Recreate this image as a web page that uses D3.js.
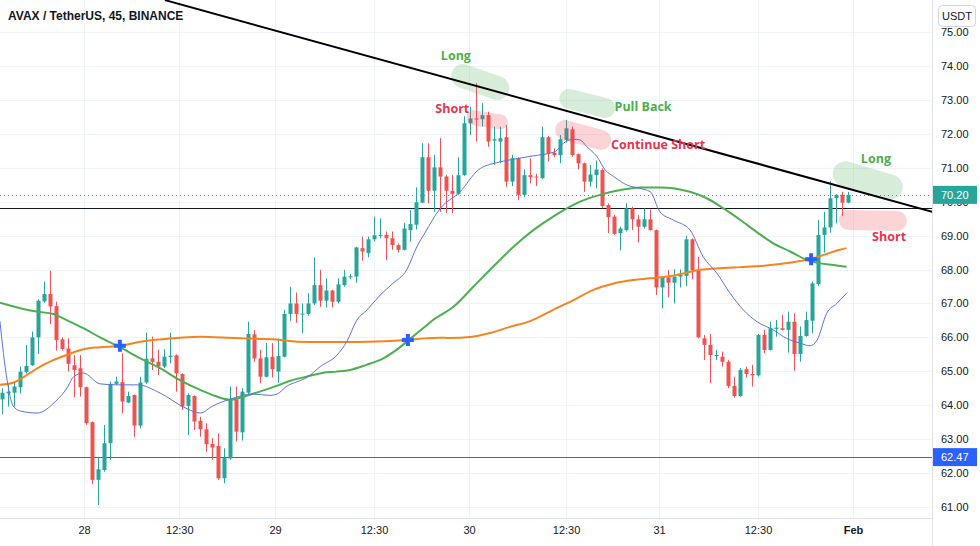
<!DOCTYPE html>
<html><head><meta charset="utf-8">
<script src="https://cdn.jsdelivr.net/npm/d3@7"></script>
<style>body{margin:0;background:#fff;}svg{display:block;}</style>
</head><body>
<svg id="c" width="980" height="546"></svg>
<script>
// ---- DATA ----
const title = "AVAX / TetherUS, 45, BINANCE";
const currency = "USDT";
const open  = [64.17,64.35,64.37,64.53,64.98,65.18,66.00,67.06,67.28,66.92,65.94,65.67,65.18,65.09,64.53,63.50,61.80,62.09,62.88,64.63,64.68,64.08,64.30,63.40,64.67,65.38,65.28,65.14,65.42,65.47,64.92,63.98,64.27,63.54,63.29,62.86,62.80,61.85,62.43,64.17,63.20,64.37,66.09,65.38,64.84,65.43,64.99,65.43,66.69,67.00,66.69,66.69,67.00,67.54,67.08,67.38,67.05,67.54,67.79,67.79,68.63,68.48,68.89,69.01,69.02,68.92,68.72,68.58,69.16,69.32,69.97,71.31,70.32,71.01,70.74,70.32,70.23,70.78,72.31,72.45,72.43,72.55,71.80,71.77,71.90,70.59,71.28,70.20,70.78,70.74,70.69,71.90,71.44,71.37,71.82,72.13,71.40,71.13,70.59,70.78,70.93,69.90,69.56,69.07,69.16,69.80,69.48,69.26,69.48,69.16,67.47,67.77,67.61,67.79,67.81,68.89,67.97,65.97,65.78,65.45,65.43,65.28,64.57,64.27,65.06,64.92,64.88,66.07,65.63,66.25,66.27,66.22,66.46,65.51,66.04,66.49,67.57,69.02,69.24,70.10,70.20,69.97];
const high  = [64.50,64.63,64.70,65.14,65.78,66.17,67.12,67.64,67.97,67.05,66.00,65.97,65.48,65.48,64.55,63.52,62.48,63.42,64.70,64.84,65.53,64.40,64.32,64.84,66.14,66.02,65.63,65.65,66.14,65.50,64.94,64.35,64.29,63.66,63.47,63.03,63.17,62.73,64.55,64.55,64.50,66.46,66.22,65.63,65.83,65.83,65.97,66.81,67.49,67.32,67.00,67.30,68.36,67.99,67.74,67.40,67.74,67.99,67.87,68.67,68.97,68.97,69.56,69.51,69.12,69.12,68.77,69.38,69.75,70.42,71.72,71.72,71.38,71.87,70.79,70.79,71.31,72.52,72.80,73.50,72.90,72.65,72.21,72.21,72.26,71.38,71.31,70.95,71.28,70.82,72.21,71.94,71.57,71.96,72.41,72.21,71.42,71.15,71.08,71.21,70.98,69.95,69.61,69.26,69.95,69.85,69.60,69.80,69.77,69.18,67.79,67.99,68.00,68.00,68.99,68.92,68.38,66.07,66.10,65.63,65.58,65.33,64.84,65.09,65.14,65.19,66.10,66.22,66.46,66.51,66.66,66.76,66.71,66.32,66.76,67.64,69.46,69.70,70.60,70.22,70.29,70.29];
const low   = [63.74,63.96,63.96,64.35,64.94,65.16,65.51,67.02,66.39,65.61,65.61,64.99,64.23,64.25,63.42,61.68,61.06,62.04,62.39,64.60,63.76,64.06,63.07,63.32,64.63,65.04,64.89,65.09,65.23,64.40,63.86,63.12,63.27,63.07,62.63,62.39,61.80,61.70,62.39,62.93,62.96,64.33,65.28,64.65,64.82,64.82,64.66,65.41,66.49,66.43,66.12,66.64,66.95,66.90,66.88,66.88,67.00,67.49,67.71,67.61,68.26,68.36,68.82,68.92,68.28,68.58,68.50,68.56,68.82,69.18,69.95,69.95,69.70,69.70,69.66,69.66,70.20,70.76,71.96,71.77,72.21,71.62,71.08,71.13,70.44,70.46,70.05,70.13,70.54,70.46,70.66,71.18,71.31,71.13,71.74,71.32,70.95,70.29,70.44,70.39,69.80,69.07,69.02,68.56,69.12,69.16,68.80,69.21,69.15,67.25,66.86,67.18,67.00,67.47,67.51,67.71,65.97,65.33,64.65,65.33,65.14,64.50,64.23,64.25,64.82,64.55,64.84,65.53,65.61,66.02,66.20,65.55,65.02,65.28,66.02,66.12,67.51,68.50,69.09,69.36,69.58,69.95];
const close = [64.37,64.40,64.55,64.99,65.16,66.00,67.08,67.28,66.91,65.92,65.66,65.22,65.04,64.53,63.47,61.80,62.11,62.88,64.63,64.70,64.11,64.27,63.40,64.67,65.37,65.28,65.14,65.43,65.46,64.94,63.96,64.30,63.52,63.29,62.85,62.75,61.85,62.44,64.17,63.22,64.40,66.10,65.38,64.84,65.41,65.06,65.45,66.69,67.00,66.69,66.70,67.00,67.54,67.08,67.38,67.05,67.56,67.79,67.80,68.65,68.53,68.89,69.01,69.02,68.92,68.72,68.58,69.21,69.34,69.98,71.31,70.32,71.01,70.74,70.32,70.23,70.78,72.31,72.45,72.43,72.55,71.77,71.84,71.87,70.59,71.28,70.20,70.78,70.72,70.71,71.90,71.42,71.37,71.84,72.16,71.37,71.13,70.59,70.80,70.95,69.87,69.54,69.05,69.21,69.80,69.48,69.26,69.48,69.16,67.47,67.77,67.61,67.79,67.84,68.89,67.97,66.00,65.78,65.48,65.48,65.28,64.57,64.27,65.04,64.92,64.88,66.07,65.63,66.27,66.29,66.22,66.46,65.51,66.04,66.51,67.59,69.02,69.24,70.10,70.20,69.97,70.20];

// moving averages: [candle index, price]
const maFast = [[-0.3,66.48],[0.9,64.74],[1.9,63.98],[3.1,63.83],[5.9,63.77],[8.9,64.10],[10.9,64.51],[12,64.84],[13.6,64.95],[16.4,64.63],[19.2,64.60],[22.7,64.60],[26.4,64.36],[30.6,63.92],[33.1,63.77],[35.2,63.98],[38.1,64.18],[41.9,64.33],[44.7,64.29],[45.9,64.33],[47.6,64.57],[49.2,64.69],[50.9,64.82],[53.1,65.14],[55.9,65.48],[57.5,65.87],[59.2,66.51],[60.9,66.81],[63.1,67.25],[65.2,67.59],[67.5,67.99],[69.2,68.67],[70.5,69.07],[73.1,69.80],[76.4,70.29],[79.4,70.93],[82.5,71.15],[84.7,71.23],[88.6,71.35],[92.2,71.47],[93.6,71.72],[95.3,71.84],[96.4,71.82],[97.5,71.62],[99.2,71.33],[100.6,70.93],[102.0,70.74],[104.2,70.49],[106.4,70.39],[108.1,70.29],[109.7,69.70],[111.9,69.46],[114.7,69.17],[116.9,68.38],[119.2,67.89],[121.4,67.30],[123.6,66.81],[125.9,66.46],[128.6,66.22],[130.8,65.97],[133.1,65.83],[134.7,65.75],[135.9,65.92],[137.5,66.71],[139.2,67.00],[140.9,67.32]];
const maMid = [[-0.3,67.02],[3.1,66.86],[5.8,66.76],[8.6,66.69],[10.8,66.51],[13.6,66.27],[16.4,66.00],[19.7,65.71],[23.1,65.38],[26.4,65.09],[29.7,64.74],[33.1,64.45],[35.6,64.27],[38.1,64.16],[40.3,64.25],[42.5,64.37],[45.8,64.57],[48.1,64.72],[50.8,64.84],[53.6,64.96],[55.8,64.99],[58.1,65.04],[60.8,65.19],[63.6,65.38],[65.8,65.63],[67.5,65.87],[69.2,66.12],[70.6,66.32],[71.9,66.51],[75.3,66.90],[78.6,67.49],[81.9,68.08],[85.3,68.67],[88.6,69.16],[91.9,69.56],[94.2,69.80],[96.4,70.00],[99.7,70.20],[103.1,70.34],[106.4,70.42],[109.7,70.42],[114.7,70.29],[117.5,70.10],[120.3,69.80],[123.1,69.46],[125.8,69.11],[128.6,68.77],[131.4,68.53],[134.2,68.28],[136.4,68.18],[138.6,68.13],[140.8,68.08]];
const maSlow = [[-0.3,64.60],[1.9,64.66],[4.2,64.89],[6.4,65.14],[8.6,65.33],[10.8,65.48],[13.6,65.65],[16.4,65.71],[19.7,65.75],[23.1,65.87],[26.4,65.94],[29.7,65.99],[33.1,66.02],[35.6,66.00],[40.3,65.97],[45.8,65.94],[49.2,65.87],[53.1,65.86],[56.9,65.86],[60.8,65.87],[64.7,65.89],[67.5,65.92],[70.6,65.97],[72.9,65.99],[74.7,65.98],[78.1,66.01],[81.4,66.13],[84.7,66.31],[88.1,66.48],[91.9,66.81],[95.3,67.10],[98.6,67.40],[102.0,67.59],[105.3,67.69],[108.1,67.74],[112.5,67.84],[116.4,67.99],[119.7,68.04],[123.1,68.07],[126.4,68.10],[129.7,68.16],[133.1,68.25],[135.3,68.33],[137.5,68.46],[139.7,68.58],[140.8,68.63]];
const crosses = [[19.7,65.75],[67.7,65.92],[134.9,68.30]];
const trendLine = [[27.2,75.94],[155.1,69.70]];
const supportLevel = 69.81;
const blueLevel = 62.47;
const lastPrice = 70.20;
const priceTicks = [61,62,63,64,65,66,67,68,69,70,71,72,73,74,75];
const timeTickPos = [13.72,29.6,45.56,62.05,77.89,94.06,109.56,126.05,141.89];
const timeTickLabels = ["28","12:30","29","12:30","30","12:30","31","12:30","Feb"];
const noteTexts = ["Long","Short","Pull Back","Continue Short","Long","Short"];
const noteKinds = ["long","short","long","short","long","short"];
const notePos = [[75.7,74.32],[75.1,72.76],[106.9,72.79],[109.4,71.67],[145.7,71.26],[147.9,68.96]];
const highlightKinds = ["long","short","long","short","long","short"];
const highlightSeg = [[[76.9,73.70],[82.6,73.35]],[[78.7,72.47],[83.1,72.35]],[[94.6,73.03],[100.6,72.76]],[[93.9,72.11],[99.9,71.82]],[[140.6,70.82],[148.1,70.43]],[[141.2,69.46],[149.2,69.43]]];

// ---- STYLE ----
const W = 980, H = 546, plotW = 932, plotH = 518;
const UP = "#26a69a", DOWN = "#ef5350";
const hlWidth = [24,15,20,20,25,20];
const kindText = {long:"#4caf50", short:"#e8334f"};
const kindFill = {long:"rgba(76,175,80,0.22)", short:"rgba(242,54,69,0.22)"};
const FONT = "'Liberation Sans', Arial, sans-serif";

const svg = d3.select("#c");
const x = d3.scaleLinear().domain([-0.28, 155.05]).range([0, plotW]);
const y = d3.scaleLinear().domain([61, 75]).range([507, 32]);

svg.append("rect").attr("width",W).attr("height",H).attr("fill","#fff");

// grid
const grid = svg.append("g");
grid.selectAll("line.h").data(priceTicks).join("line")
  .attr("x1",0).attr("x2",plotW)
  .attr("y1",d=>Math.round(y(d))+0.5).attr("y2",d=>Math.round(y(d))+0.5)
  .attr("stroke","#f0f3fa");
grid.selectAll("line.v").data(timeTickPos).join("line")
  .attr("y1",0).attr("y2",plotH)
  .attr("x1",d=>Math.round(x(d))+0.5).attr("x2",d=>Math.round(x(d))+0.5)
  .attr("stroke","#f0f3fa");

const plot = svg.append("g");
svg.append("clipPath").attr("id","clip").append("rect").attr("width",plotW).attr("height",plotH);
plot.attr("clip-path","url(#clip)");

// horizontal levels
plot.append("line").attr("x1",0).attr("x2",plotW)
  .attr("y1",Math.round(y(blueLevel))+0.5).attr("y2",Math.round(y(blueLevel))+0.5)
  .attr("stroke","#2962ff").attr("stroke-width",1);
plot.append("line").attr("x1",0).attr("x2",plotW)
  .attr("y1",Math.round(y(supportLevel))+0.5).attr("y2",Math.round(y(supportLevel))+0.5)
  .attr("stroke","#131722").attr("stroke-width",1.2);
plot.append("line").attr("x1",0).attr("x2",plotW)
  .attr("y1",Math.round(y(lastPrice))+0.5).attr("y2",Math.round(y(lastPrice))+0.5)
  .attr("stroke",UP).attr("stroke-width",1).attr("stroke-dasharray","1,3");

// candles
const idx = d3.range(open.length);
const cg = plot.append("g");
cg.selectAll("line").data(idx).join("line")
  .attr("x1",i=>Math.round(x(i))+0.5).attr("x2",i=>Math.round(x(i))+0.5)
  .attr("y1",i=>y(high[i])).attr("y2",i=>y(low[i]))
  .attr("stroke",i=>close[i]>=open[i]?UP:DOWN).attr("stroke-width",1);
cg.selectAll("rect").data(idx).join("rect")
  .attr("x",i=>Math.round(x(i))-1.5).attr("width",4)
  .attr("y",i=>y(Math.max(open[i],close[i])))
  .attr("height",i=>Math.max(1,Math.abs(y(open[i])-y(close[i]))))
  .attr("fill",i=>close[i]>=open[i]?UP:DOWN);

// moving averages
const line = d3.line().x(d=>x(d[0])).y(d=>y(d[1])).curve(d3.curveMonotoneX);
plot.append("path").attr("d",line(maSlow)).attr("fill","none").attr("stroke","#f5841f").attr("stroke-width",2);
plot.append("path").attr("d",line(maMid)).attr("fill","none").attr("stroke","#4caf50").attr("stroke-width",2);
plot.append("path").attr("d",line(maFast)).attr("fill","none").attr("stroke","#5a73e6").attr("stroke-width",1);

// crosses
plot.selectAll("path.cross").data(crosses).join("path")
  .attr("transform",d=>`translate(${x(d[0])},${y(d[1])})`)
  .attr("d","M-6,-2H-2V-6H2V-2H6V2H2V6H-2V2H-6Z")
  .attr("fill","#2962ff");

// highlights
plot.selectAll("line.hl").data(highlightSeg).join("line")
  .attr("x1",d=>x(d[0][0])).attr("y1",d=>y(d[0][1]))
  .attr("x2",d=>x(d[1][0])).attr("y2",d=>y(d[1][1]))
  .attr("stroke",(d,k)=>kindFill[highlightKinds[k]])
  .attr("stroke-width",(d,k)=>hlWidth[k]).attr("stroke-linecap","round");

// trend line
plot.append("line")
  .attr("x1",x(trendLine[0][0])).attr("y1",y(trendLine[0][1]))
  .attr("x2",x(trendLine[1][0])).attr("y2",y(trendLine[1][1]))
  .attr("stroke","#000").attr("stroke-width",2);

// notes
plot.selectAll("text.note").data(noteTexts).join("text")
  .attr("x",(d,k)=>x(notePos[k][0])).attr("y",(d,k)=>y(notePos[k][1]))
  .attr("text-anchor","middle").attr("dominant-baseline","central")
  .attr("font-family","'Open Sans', sans-serif").attr("font-weight",700).attr("font-size",12.5)
  .attr("fill",(d,k)=>kindText[noteKinds[k]]).text(d=>d);

// axes borders
svg.append("line").attr("x1",plotW+0.5).attr("x2",plotW+0.5).attr("y1",0).attr("y2",H).attr("stroke","#e0e3eb");
svg.append("line").attr("x1",0).attr("x2",plotW).attr("y1",plotH+0.5).attr("y2",plotH+0.5).attr("stroke","#e0e3eb");

// y axis labels
const ya = d3.axisRight(y).tickValues(priceTicks).tickFormat(d3.format(".2f")).tickSize(0).tickPadding(0);
const yg = svg.append("g").attr("transform",`translate(${plotW+9},0)`).call(ya);
yg.select(".domain").remove();
yg.selectAll("text").attr("font-family",FONT).attr("font-size",11).attr("fill","#131722");

// x axis labels
const xa = d3.axisBottom(x).tickValues(timeTickPos).tickFormat((d,k)=>timeTickLabels[k]).tickSize(0).tickPadding(0);
const xg = svg.append("g").attr("transform",`translate(0,${plotH+8})`).call(xa);
xg.select(".domain").remove();
xg.selectAll("text").attr("font-family",FONT).attr("font-size",11).attr("fill","#131722")
  .attr("font-weight",(d,k)=>timeTickLabels[k]==="Feb"?700:400);

// price badges
function badge(p, color){
  const yy = y(p);
  svg.append("rect").attr("x",plotW+1).attr("y",yy-9).attr("width",44).attr("height",18).attr("fill",color);
  svg.append("text").attr("x",plotW+9).attr("y",yy).attr("dominant-baseline","central")
    .attr("font-family",FONT).attr("font-size",11).attr("fill","#fff").text(d3.format(".2f")(p));
}
badge(lastPrice, UP);
badge(blueLevel, "#2962ff");

// currency box
svg.append("rect").attr("x",938.5).attr("y",5.5).attr("width",37).attr("height",21).attr("rx",4)
  .attr("fill","#fff").attr("stroke","#d1d4dc");
svg.append("text").attr("x",957).attr("y",16).attr("text-anchor","middle").attr("dominant-baseline","central")
  .attr("font-family",FONT).attr("font-size",11).attr("fill","#131722").text(currency);

// title
svg.append("text").attr("x",8).attr("y",16).attr("dominant-baseline","central")
  .attr("font-family",FONT).attr("font-weight",700).attr("font-size",12).attr("fill","#131722").text(title);
</script>
</body></html>
